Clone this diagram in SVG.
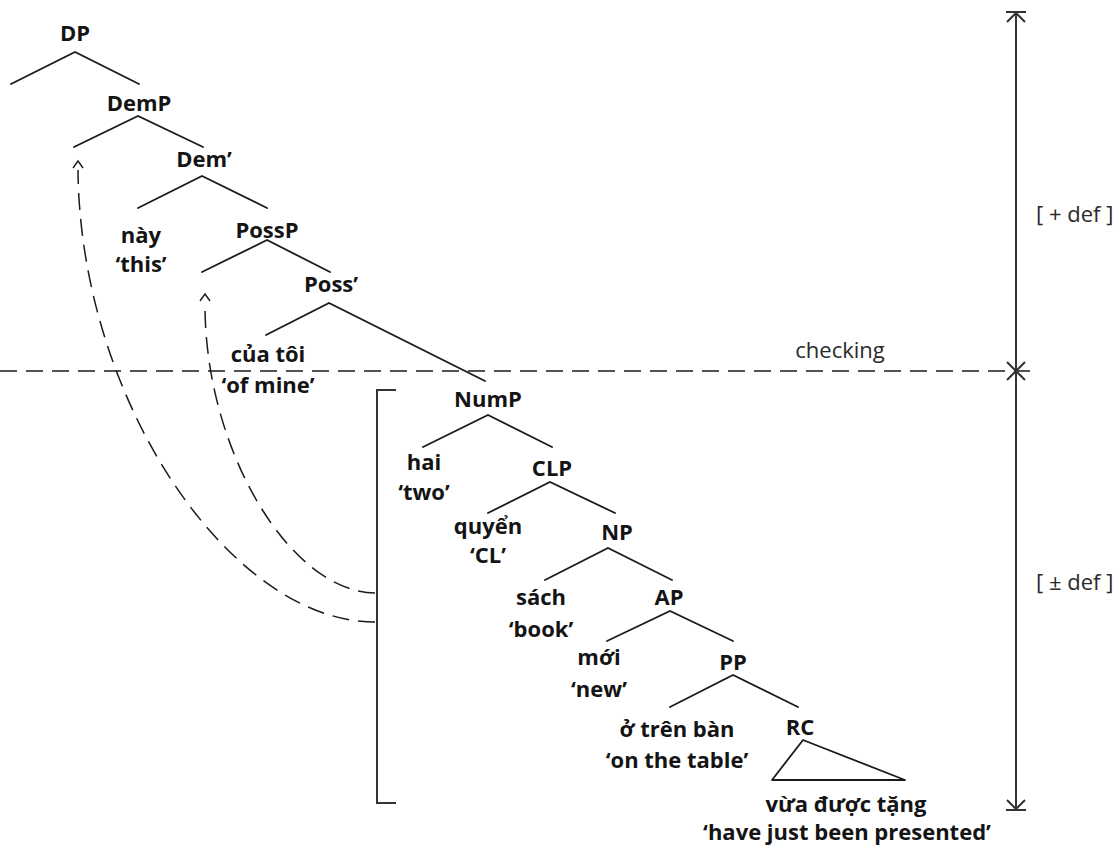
<svg xmlns="http://www.w3.org/2000/svg" width="1116" height="845" viewBox="0 0 1116 845">
  <style>
    .lbl { font-family: "Open Sans", "Liberation Sans", sans-serif; font-weight: 700; font-size: 22px; fill: #141414; text-anchor: middle; }
    .note { font-family: "Open Sans", "Liberation Sans", sans-serif; font-weight: 400; font-size: 22px; fill: #2a2a2a; }
    .branch { stroke: #1a1a1a; stroke-width: 1.8; fill: none; stroke-linecap: round; }
    .move { stroke: #1a1a1a; stroke-width: 1.5; fill: none; stroke-dasharray: 17 9; }
    .tip { stroke: #1a1a1a; stroke-width: 1.4; fill: none; }
    .scale { stroke: #333; stroke-width: 2; fill: none; }
  </style>
  <rect width="1116" height="845" fill="#ffffff"/>

  <!-- tree nodes -->
  <g id="DP">
    <text class="lbl" x="75" y="41">DP</text>
    <path class="branch" d="M11 84 L75 52 L139 84"/>
  </g>
  <g id="DemP">
    <text class="lbl" x="139" y="111">DemP</text>
    <path class="branch" d="M74 147 L138 116 L203 147"/>
  </g>
  <g id="DemBar">
    <text class="lbl" x="204" y="167">Dem’</text>
    <path class="branch" d="M138 208 L202 176 L267 208"/>
  </g>
  <g id="Dem">
    <text class="lbl" x="141" y="243">này</text>
    <text class="lbl" x="141" y="272">‘this’</text>
  </g>
  <g id="PossP">
    <text class="lbl" x="267" y="238">PossP</text>
    <path class="branch" d="M202 272 L267 240 L330 272"/>
  </g>
  <g id="PossBar">
    <text class="lbl" x="331" y="292">Poss’</text>
    <path class="branch" d="M266 335 L329 303 L485 381"/>
  </g>
  <g id="Poss">
    <text class="lbl" x="268" y="362">của tôi</text>
    <text class="lbl" x="268" y="393">‘of mine’</text>
  </g>
  <g id="NumP">
    <text class="lbl" x="488" y="407">NumP</text>
    <path class="branch" d="M423 447 L488 415 L552 447"/>
  </g>
  <g id="Num">
    <text class="lbl" x="424" y="470">hai</text>
    <text class="lbl" x="424" y="500">‘two’</text>
  </g>
  <g id="CLP">
    <text class="lbl" x="552" y="476">CLP</text>
    <path class="branch" d="M488 513 L550 482 L615 513"/>
  </g>
  <g id="CL">
    <text class="lbl" x="488" y="534">quyển</text>
    <text class="lbl" x="488" y="563">‘CL’</text>
  </g>
  <g id="NP">
    <text class="lbl" x="617" y="540">NP</text>
    <path class="branch" d="M545 580 L608 548 L672 580"/>
  </g>
  <g id="N">
    <text class="lbl" x="541" y="605">sách</text>
    <text class="lbl" x="541" y="637">‘book’</text>
  </g>
  <g id="AP">
    <text class="lbl" x="669" y="605">AP</text>
    <path class="branch" d="M607 641 L670 611 L733 641"/>
  </g>
  <g id="A">
    <text class="lbl" x="599" y="665">mới</text>
    <text class="lbl" x="599" y="697">‘new’</text>
  </g>
  <g id="PP">
    <text class="lbl" x="733" y="670">PP</text>
    <path class="branch" d="M670 707 L733 675 L798 707"/>
  </g>
  <g id="P">
    <text class="lbl" x="677" y="737">ở trên bàn</text>
    <text class="lbl" x="677" y="768">‘on the table’</text>
  </g>
  <g id="RC">
    <text class="lbl" x="800" y="735">RC</text>
    <path class="branch" d="M803 740 L772 780 L905 780 Z" stroke-linejoin="round"/>
    <text class="lbl" x="846" y="812">vừa được tặng</text>
    <text class="lbl" x="847" y="840">‘have just been presented’</text>
  </g>

  <!-- checking boundary and definiteness scale -->
  <g id="checking">
    <line class="move" x1="0" y1="371" x2="1030" y2="371" stroke-dasharray="14 10"/>
    <text class="note" x="840" y="358" text-anchor="middle">checking</text>
  </g>
  <g id="scale">
    <line class="scale" x1="1016" y1="12" x2="1016" y2="810"/>
    <path class="scale" d="M1006 12 H1026 M1007 22 L1016 13 L1025 22"/>
    <path class="scale" d="M1006 810 H1026 M1007 800 L1016 809 L1025 800"/>
    <path class="scale" d="M1007 362 L1016 371 L1025 362 M1007 380 L1016 371 L1025 380"/>
    <text class="note" x="1036" y="222" font-size="21">[ + def ]</text>
    <text class="note" x="1036" y="590" font-size="21">[ ± def ]</text>
  </g>
  <g id="bracket">
    <path class="scale" d="M396 390 H377 V803 H396"/>
  </g>

  <!-- movement connectors -->
  <g id="connectors">
    <path class="move" d="M375 593 C290 592 205 450 205 305"/>
    <path class="tip" d="M200 301 L205 294 L210 301"/>
    <path class="move" d="M375 622 C230 622 80 400 78 170"/>
    <path class="tip" d="M73 168 L78 161 L83 168"/>
  </g>
</svg>
